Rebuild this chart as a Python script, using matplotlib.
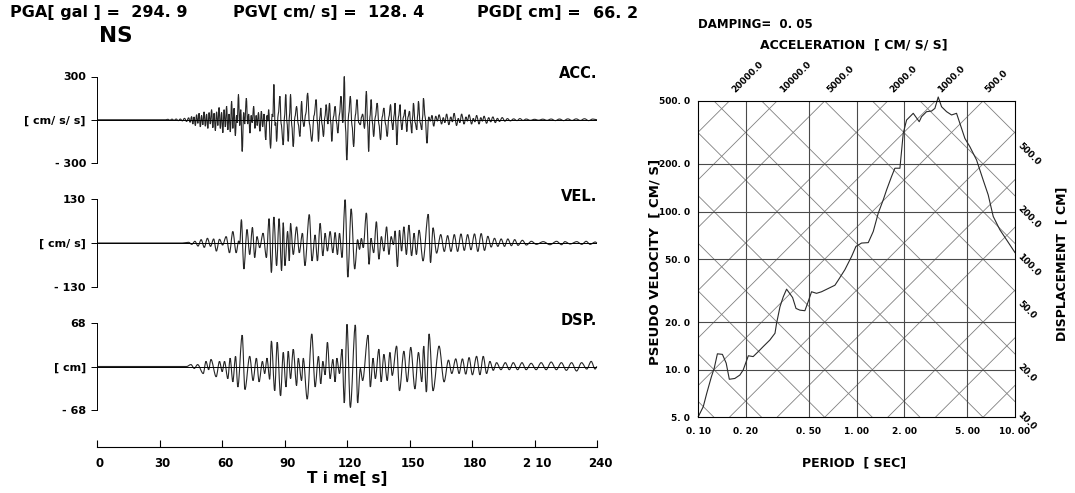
import matplotlib
matplotlib.use('Agg')
import matplotlib.pyplot as plt
import matplotlib.transforms as mtransforms
from matplotlib.path import Path
from matplotlib.patches import PathPatch
from matplotlib.ticker import NullLocator
import numpy as np

plt.rcParams['font.family'] = 'DejaVu Sans'
plt.rcParams['font.weight'] = 'bold'
plt.rcParams['axes.labelweight'] = 'bold'

W, H = 1075, 493

# ----------------------------------------------------------------- data ----
PGA, PGV, PGD = 294.9, 128.4, 66.2
DAMPING = 0.05
COMPONENT = "NS"

# turning points of each time history: (time [s], value)
ACC_PEAKS = [
    (0, 0), (33, 0), (34, 3), (35, -3), (36, 4), (37, -4), (38, 5), (39, -6), (40, 5),
    (41, -8), (42, 10), (43, -12), (44, 14), (44.7, -18), (45.4, 22), (46.0, -30),
    (46.6, 20), (47.2, -40), (47.8, 35), (48.4, -25), (49.0, 45), (49.6, -50),
    (50.2, 30), (50.8, -35), (51.4, 55), (52.0, -45), (52.6, 40), (53.2, -60),
    (53.8, 50), (54.4, -30), (55.0, 70), (55.6, -55), (56.2, 45), (56.8, -75),
    (57.4, 55), (58.0, -40), (58.6, 85), (59.2, -60), (59.8, 50), (60.4, -90),
    (61.0, 70), (61.6, -50), (62.2, 95), (62.8, -70), (63.4, 40), (64.0, -85),
    (64.6, 128), (65.2, -60), (65.8, 80), (66.4, -110), (67.0, 30), (67.3, -20),
    (67.9, 175), (68.5, -40), (69.0, 70), (69.7, -220), (70.4, 50), (70.9, -30),
    (71.7, 150), (72.3, -30), (72.8, 40), (73.4, -93), (74.0, 30), (74.5, -20),
    (75.2, 93), (75.8, -60), (76.4, 30), (76.9, -40), (77.5, 50), (78.2, -80),
    (78.9, 60), (79.5, -50), (80.2, 40), (81.0, -140), (81.6, 30), (82.0, -10),
    (82.4, 70), (83.3, -198), (84.1, 40), (84.4, 20), (84.9, 245), (85.5, -40),
    (85.8, -20), (86.2, -150), (87.0, 40), (87.8, 163), (88.4, -30), (89.4, -175),
    (90.0, 20), (90.6, 175), (91.2, -20), (91.8, -150), (92.4, 30), (92.9, 175),
    (93.5, -40), (94.2, -186), (95.0, 20), (95.8, 93), (96.6, -30), (97.4, -116),
    (98.2, 128), (98.8, -10), (99.3, -47), (100.2, 40), (101.1, 186), (102.0, -30),
    (103.1, -150), (104.2, 30), (105.2, 140), (105.8, -20), (106.3, -150), (107.0, 20),
    (107.4, 82), (108.0, -30), (108.7, -116), (109.4, 20), (110.0, 105), (110.8, -30),
    (111.6, 116), (112.2, -20), (112.7, -150), (113.5, 20), (114.3, 93), (115.0, -20),
    (115.6, -93), (116.4, 40), (117.1, 163), (118.0, -20), (118.7, 300), (119.3, -60),
    (119.9, -280), (120.8, 40), (121.6, 163), (122.4, -40), (123.2, -186), (124.0, 30),
    (124.8, 140), (125.6, -20), (126.4, -35), (127.0, 20), (127.5, 40), (128.4, -60),
    (129.3, 198), (129.9, -30), (130.4, -220), (131.0, 20), (131.6, 140), (132.2, -20),
    (132.8, -116), (133.6, 20), (134.5, 116), (135.3, -30), (136.1, -140), (136.9, 20),
    (137.7, 82), (138.5, -30), (139.3, -116), (140.1, 20), (140.9, 105), (141.5, -20),
    (142.0, -70), (142.6, 30), (143.1, 116), (143.5, -30), (143.9, -175), (144.7, 20),
    (145.5, 105), (145.9, -20), (146.3, -70), (147.1, 20), (147.9, 70), (148.3, -20),
    (148.7, -82), (149.3, 20), (150.0, 60), (150.5, -20), (151.1, -93), (151.5, 20),
    (151.9, 116), (152.7, -20), (153.5, -70), (153.9, 30), (154.3, 128), (155.1, -20),
    (155.9, -70), (156.3, 20), (156.7, 150), (157.5, 20), (158.4, -163), (159.2, 20),
    (160.0, -10), (160.8, 30), (161.6, -45), (162.6, 25), (163.4, -10), (164.2, 35),
    (165.4, -30), (166.2, 15), (167.0, -20), (167.8, 40), (168.9, -35), (169.8, 20),
    (170.6, -15), (171.4, 45), (172.6, -40), (173.4, 10), (174.2, -20), (175.0, 40),
    (176.2, -30), (177.1, 20), (177.8, -10), (178.6, 35), (179.8, -30), (180.6, 10),
    (181.4, -15), (182.2, 30), (183.4, -30), (184.2, 15), (185.0, -10), (185.8, 25),
    (187.0, -25), (188.0, 15), (189.0, -15), (190.0, 20), (191.2, -20), (192.2, 10),
    (193.2, -12), (194.5, 15), (195.8, -10), (197.0, 8), (198.4, -8), (200.0, 6),
    (201.6, -6), (203.0, 8), (204.5, -5), (206.0, 5), (208.0, -4), (210.0, 3),
    (212.0, -3), (214.0, 4), (216.0, -4), (218.0, 5), (220.0, -6), (222.0, 5),
    (224.0, -6), (226.0, 6), (228.0, -5), (230.0, 6), (232.0, -5), (234.0, 7),
    (236.0, -6), (238.0, 5), (240.0, 0),
]

VEL_PEAKS = [
    (0, 0), (41, 0), (44, 2), (45.5, -4), (47, 5), (48.5, -9), (50, 10), (51.5, -13),
    (53, 14), (54.5, -10), (56, 12), (57.3, -24), (58.8, 11), (60.3, -6), (62, 19),
    (63.6, -29), (65.2, 34), (66.8, -29), (68.0, 6), (68.5, -3), (69.3, 69),
    (70.5, -77), (72.0, 40), (73.3, -34), (74.6, 46), (75.7, -43), (76.8, 19),
    (78.1, -14), (79.7, 29), (81.3, -43), (82.6, 72), (83.7, -87), (84.9, 77),
    (86.2, -67), (87.4, 72), (88.6, -82), (89.4, 60), (90.2, -67), (91.5, 34),
    (92.3, -53), (92.9, 58), (94.2, -34), (95.8, 48), (97.1, -29), (98.6, 29),
    (99.8, -67), (101.9, 84), (103.2, -53), (104.7, 24), (105.8, -53), (107.1, 58),
    (108.4, -38), (109.5, 29), (110.6, -24), (111.9, 34), (113.2, -29), (114.3, 31),
    (115.4, -34), (116.4, 29), (117.6, -43), (119.1, 128), (120.4, -101),
    (122.0, 101), (123.7, -77), (125.1, 10), (126.0, -19), (126.9, 14), (127.8, -14),
    (129.3, 89), (130.6, -63), (131.5, 14), (132.8, -29), (134.1, 63), (135.3, -48),
    (136.5, 19), (137.7, -24), (139.0, 48), (140.1, -34), (141.2, 19), (142.3, -5),
    (143.1, 36), (144.2, -70), (145.2, 38), (146.2, -24), (147.3, 48), (148.5, -34),
    (149.7, 53), (151.0, -38), (152.2, 29), (153.3, -34), (154.6, 38), (156.5, -53),
    (159.0, 85), (160.1, -58), (161.3, 45), (163.0, -30), (165.0, 25), (166.7, -25),
    (168.3, 22), (169.9, -25), (171.5, 25), (173.1, -25), (174.7, 27), (176.3, -22),
    (177.9, 25), (179.5, -20), (181.2, 27), (182.8, -25), (184.4, 28), (186.0, -22),
    (187.6, 20), (189.2, -12), (190.8, 14), (192.4, -10), (194.0, 12), (195.6, -10),
    (197.2, 12), (198.9, -8), (200.5, 10), (202.1, -7), (204.2, 8), (206.1, -6),
    (208.5, 5), (210.9, -4), (214.2, 4), (217.4, -5), (220.6, 5), (223.0, -5),
    (224.6, 4), (227.1, -3), (230.3, 4), (232.7, -4), (234.8, 5), (236.7, -4),
    (239.2, 3), (240.0, 0),
]

DSP_PEAKS = [
    (0, 0), (43, 0), (45.1, 3), (46.7, -3), (48.3, 3), (51.0, -11), (52.3, 8),
    (53.6, -5), (54.7, 11), (57.2, -16), (58.8, 8), (60.1, -8), (61.2, 8), (62.8, -19),
    (63.9, 13), (65.2, -24), (66.5, 16), (67.6, -32), (69.7, 49), (71.0, -36),
    (73.3, 16), (74.9, -22), (76.5, 13), (77.8, -24), (79.4, 8), (80.5, -11),
    (81.6, 13), (82.9, -20), (83.7, 40), (85.3, -38), (86.5, 38), (88.1, -46),
    (89.4, 22), (90.7, -32), (91.8, 24), (92.9, -19), (94.2, 27), (95.8, -30),
    (96.6, 13), (98.2, -22), (99.0, 13), (100.9, -51), (103.1, 51), (104.7, -32),
    (106.3, 16), (107.4, -27), (108.4, 8), (109.5, -13), (110.6, 38), (111.9, -19),
    (113.2, 11), (114.3, -24), (115.1, 13), (116.4, -11), (117.6, 27), (118.7, -57),
    (120.0, 66), (121.6, -64), (124.0, 65), (125.1, -57), (126.4, -3), (127.5, -22),
    (130.1, 49), (131.2, -32), (132.5, 13), (133.6, -19), (135.3, 27), (136.4, -24),
    (137.7, 19), (139.3, -22), (140.6, 22), (141.7, -14), (143.8, 32), (145.2, -38),
    (147.3, 24), (148.9, -24), (150.6, 30), (152.6, -35), (154.3, 22), (155.9, -24),
    (156.8, 32), (158.1, -40), (159.4, 51), (161.3, -38), (164.2, 32), (166.6, -24),
    (168.7, 10), (170.3, -11), (172.2, 12), (173.8, -11), (175.4, 12), (177.0, -12),
    (178.6, 14), (180.2, -13), (182.2, 16), (183.8, -13), (185.4, 16), (187.0, -11),
    (188.6, 8), (190.2, -6), (191.8, 6), (193.9, -5), (196.0, 6), (197.9, -5),
    (199.8, 6), (201.9, -5), (204.0, 6), (206.0, -5), (208.4, 5), (210.8, -5),
    (213.2, 6), (215.6, -5), (218.0, 7), (220.5, -5), (222.9, 6), (225.3, -6),
    (227.8, 6), (230.2, -7), (232.6, 6), (235.1, -4), (237.2, 8), (239.1, -4),
    (240.0, 0),
]

TIME_TICKS = [0, 30, 60, 90, 120, 150, 180, 210, 240]
TIME_LABELS = ["0", "30", "60", "90", "120", "150", "180", "2 10", "240"]

# pseudo velocity response spectrum, h = 0.05
SV_PERIOD = [0.100, 0.1075, 0.113, 0.121, 0.126, 0.132, 0.142, 0.150, 0.157, 0.170,
             0.183, 0.192, 0.207, 0.222, 0.239, 0.257, 0.283, 0.305, 0.312, 0.328,
             0.344, 0.361, 0.394, 0.414, 0.438, 0.471, 0.494, 0.519, 0.558, 0.600,
             0.661, 0.729, 0.765, 0.843, 0.929, 0.990, 1.074, 1.184, 1.273, 1.369,
             1.472, 1.546, 1.661, 1.744, 1.876, 1.969, 2.067, 2.277, 2.484, 2.570,
             2.764, 2.972, 3.119, 3.275, 3.437, 3.697, 3.976, 4.274, 4.487, 4.826,
             5.188, 5.716, 6.298, 6.772, 7.285, 8.026, 8.842, 10.0]
SV_VELOCITY = [5.05, 5.84, 7.08, 9.03, 10.2, 12.6, 12.5, 11.0, 8.7, 8.8,
               9.25, 9.95, 12.25, 12.1, 13.0, 14.0, 15.4, 17.0, 19.6, 25.0,
               28.9, 32.3, 28.6, 24.4, 23.8, 23.6, 26.9, 31.1, 30.4, 31.1,
               32.6, 34.2, 36.8, 42.9, 52.0, 60.2, 63.2, 63.6, 74.8, 97.7,
               118.6, 137.1, 166.5, 187.9, 187.9, 312.5, 379.0, 418.0, 370.0, 398.0,
               428.0, 432.0, 449.0, 530.0, 460.0, 428.0, 408.0, 418.0, 361.0, 290.0,
               257.0, 212.0, 158.0, 127.5, 93.1, 76.7, 66.3, 55.0]

PERIOD_TICKS = [0.1, 0.2, 0.5, 1.0, 2.0, 5.0, 10.0]
PERIOD_LABELS = ["0. 10", "0. 20", "0. 50", "1. 00", "2. 00", "5. 00", "10. 00"]
SV_TICKS = [5, 10, 20, 50, 100, 200, 500]
SV_LABELS = ["5. 0", "10. 0", "20. 0", "50. 0", "100. 0", "200. 0", "500. 0"]

ACC_LINES = [5, 10, 20, 50, 100, 200, 500, 1000, 2000, 5000, 10000, 20000]
ACC_LABELED = [20000, 10000, 5000, 2000, 1000, 500]
DSP_LINES = [0.1, 0.2, 0.5, 1, 2, 5, 10, 20, 50, 100, 200, 500]
DSP_LABELED = [500, 200, 100, 50, 20, 10]


# ---------------------------------------------------------------- helpers ---
def px_box(x0, y0, x1, y1):
    """axes rectangle from pixel corners (origin top-left)"""
    return [x0 / W, 1 - y1 / H, (x1 - x0) / W, (y1 - y0) / H]


def fig_text(x, y, s, **kw):
    fig.text(x / W, 1 - y / H, s, **kw)


def trace(ax, peaks, **kw):
    """smooth wave through the turning points (flat tangent at each one)"""
    pts = np.asarray(peaks, float)
    verts = [tuple(pts[0])]
    codes = [Path.MOVETO]
    for (t0, v0), (t1, v1) in zip(pts[:-1], pts[1:]):
        dt = (t1 - t0) / 3.0
        verts += [(t0 + dt, v0), (t1 - dt, v1), (t1, v1)]
        codes += [Path.CURVE4] * 3
    ax.add_patch(PathPatch(Path(verts, codes), fill=False, clip_on=False, **kw))


fig = plt.figure(figsize=(W / 100, H / 100), dpi=100)

# ------------------------------------------------------------- header -------
fig_text(10, 13, f"PGA[ gal ] =  {PGA:.1f}".replace(".", ". "), fontsize=11.5, va='center')
fig_text(233, 13, f"PGV[ cm/ s] =  {PGV:.1f}".replace(".", ". "), fontsize=11.5, va='center')
fig_text(477, 13, "PGD[ cm] =", fontsize=11.5, va='center')
fig_text(638, 13, f"{PGD:.1f}".replace(".", ". "), fontsize=11.5, va='center', ha='right')
fig_text(99, 36, COMPONENT, fontsize=15.5, va='center')

# ------------------------------------------------------- time histories -----
panels = [
    ("ACC.", "[ cm/ s/ s]", 300, ACC_PEAKS, 76.5, 163.0),
    ("VEL.", "[ cm/ s]", 130, VEL_PEAKS, 199.0, 287.0),
    ("DSP.", "[ cm]", 68, DSP_PEAKS, 323.0, 410.0),
]

for name, unit, amp, peaks, y_top, y_bot in panels:
    ax = fig.add_axes(px_box(97, y_top, 597, y_bot))
    ax.axhline(0, color='black', lw=0.7)
    trace(ax, peaks, edgecolor='#262626', lw=0.8)
    ax.set_xlim(0, 240)
    ax.set_ylim(-amp, amp)
    for s in ('top', 'right', 'bottom'):
        ax.spines[s].set_visible(False)
    ax.spines['left'].set_bounds(-amp, amp)
    ax.spines['left'].set_linewidth(0.7)
    ax.patch.set_visible(False)
    ax.set_xticks([])
    ax.set_yticks([-amp, 0, amp], [f"- {amp}", unit, f"{amp}"])
    ax.tick_params(axis='y', length=4, width=0.7, pad=4, labelsize=8)
    ax.annotate(name, xy=(1.0, 1.0), xycoords='axes fraction', xytext=(0, 2),
                textcoords='offset points', ha='right', va='center', fontsize=10.5)

# time axis
axt = fig.add_axes(px_box(97, 430, 597, 447))
axt.set_xlim(0, 240)
axt.set_ylim(0, 1)
for s in ('top', 'right', 'left'):
    axt.spines[s].set_visible(False)
axt.spines['bottom'].set_linewidth(0.8)
axt.patch.set_visible(False)
axt.set_yticks([])
axt.set_xticks(TIME_TICKS, TIME_LABELS)
axt.tick_params(axis='x', direction='in', length=5, width=0.8, pad=7, labelsize=8.5)
shift = mtransforms.ScaledTranslation(3 / 100, 0, fig.dpi_scale_trans)
for lab in axt.get_xticklabels():
    lab.set_transform(lab.get_transform() + shift)
axt.set_xlabel("T i me[ s]", fontsize=11, labelpad=1)

# -------------------------------------------------- tripartite spectrum -----
axs = fig.add_axes(px_box(698.3, 101, 1015, 417.3))
axs.set_xscale('log')
axs.set_yscale('log')
axs.set_xlim(0.1, 10)
axs.set_ylim(5, 500)

ends = np.array([0.1, 10.0])
for a in ACC_LINES:
    axs.plot(ends, a * ends / (2 * np.pi), color='#808080', lw=0.6)
for d in DSP_LINES:
    axs.plot(ends, 2 * np.pi * d / ends, color='#808080', lw=0.6)
for p in PERIOD_TICKS[1:-1]:
    axs.axvline(p, color='#4a4a4a', lw=0.8)
for v in SV_TICKS[1:-1]:
    axs.axhline(v, color='#4a4a4a', lw=0.8)

axs.plot(SV_PERIOD, SV_VELOCITY, color='#2a2a2a', lw=0.8, clip_on=False)

axs.xaxis.set_minor_locator(NullLocator())
axs.yaxis.set_minor_locator(NullLocator())
axs.set_xticks(PERIOD_TICKS, PERIOD_LABELS)
axs.set_yticks(SV_TICKS, SV_LABELS)
axs.tick_params(length=0, labelsize=6.5)
axs.tick_params(axis='x', pad=7)
axs.tick_params(axis='y', pad=6)
for s in axs.spines.values():
    s.set_linewidth(0.8)

for a in ACC_LABELED:
    axs.annotate(f"{a:.1f}", xy=(2 * np.pi * 500 / a, 500), xytext=(5, 5),
                 textcoords='offset points', rotation=45, rotation_mode='anchor',
                 ha='left', va='bottom', fontsize=6.5, annotation_clip=False)
for d in DSP_LABELED:
    axs.annotate(f"{d:.1f}", xy=(10, 2 * np.pi * d / 10), xytext=(5, -6),
                 textcoords='offset points', rotation=-45, rotation_mode='anchor',
                 ha='left', va='top', fontsize=6.5, annotation_clip=False)

fig_text(698, 25, f"DAMPING=  {DAMPING:.2f}".replace(".", ". "), fontsize=8.5, va='center')
fig_text(854, 45, "ACCELERATION  [ CM/ S/ S]", fontsize=9, va='center', ha='center')
fig_text(854, 463, "PERIOD  [ SEC]", fontsize=9, va='center', ha='center')
fig_text(655, 262, "PSEUDO VELOCITY  [ CM/ S]", fontsize=9.5, va='center', ha='center',
         rotation=90)
fig_text(1062, 264, "DISPLACEMENT  [ CM]", fontsize=9, va='center', ha='center',
         rotation=90)

fig.savefig("out.png", dpi=100)
